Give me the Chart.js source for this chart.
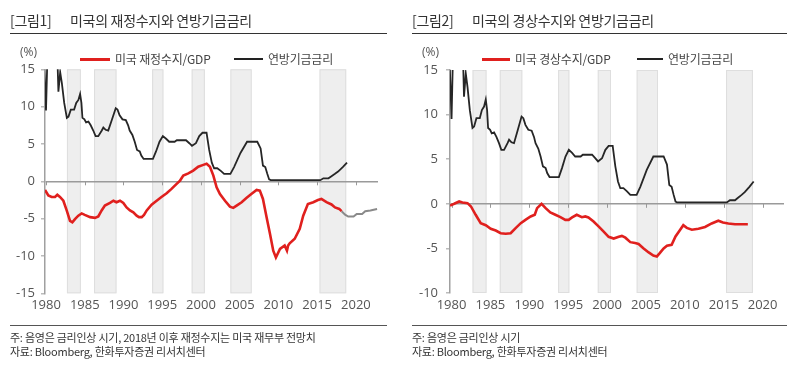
<!DOCTYPE html>
<html><head><meta charset="utf-8">
<script src="https://cdn.jsdelivr.net/npm/chart.js@4/dist/chart.umd.min.js"></script>
<style>
html,body{margin:0;padding:0;background:#fff;width:800px;height:378px;overflow:hidden;}
body{position:relative;font-family:"Noto Sans CJK KR","Noto Sans",sans-serif;color:#333;}
.abs{position:absolute;white-space:nowrap;}
.title{font-size:14px;line-height:18px;color:#333;letter-spacing:-0.3px;}
.rule{position:absolute;height:1.5px;background:#333;}
.note{font-size:11px;line-height:14px;color:#333;letter-spacing:-0.25px;}
.leg{font-size:12px;line-height:16px;color:#444;letter-spacing:-0.2px;}
.unit{font-size:12px;line-height:16px;color:#555;font-family:"Open Sans",sans-serif;}
.sw{position:absolute;}
canvas{position:absolute;top:0;}
</style></head>
<body>
<canvas id="c1" width="400" height="378" style="left:0"></canvas>
<canvas id="c2" width="400" height="378" style="left:400px"></canvas>

<div class="abs title" style="left:10px;top:11px">[그림1]</div>
<div class="abs title" style="left:70px;top:11px">미국의 재정수지와 연방기금금리</div>
<div class="rule" style="left:10px;top:32.5px;width:377px"></div>
<div class="abs title" style="left:412px;top:11px">[그림2]</div>
<div class="abs title" style="left:472px;top:11px">미국의 경상수지와 연방기금금리</div>
<div class="rule" style="left:412px;top:32.5px;width:375px"></div>

<div class="abs unit" style="left:20px;top:44px">(%)</div>
<div class="sw" style="left:80px;top:57.5px;width:30px;height:3px;background:#e0201e"></div>
<div class="abs leg" style="left:115px;top:51px">미국 재정수지/GDP</div>
<div class="sw" style="left:234px;top:58px;width:29px;height:2px;background:#222"></div>
<div class="abs leg" style="left:268px;top:51px">연방기금금리</div>

<div class="abs unit" style="left:422px;top:44px">(%)</div>
<div class="sw" style="left:482px;top:57.5px;width:28px;height:3px;background:#e0201e"></div>
<div class="abs leg" style="left:515px;top:51px">미국 경상수지/GDP</div>
<div class="sw" style="left:637px;top:58px;width:26px;height:2px;background:#222"></div>
<div class="abs leg" style="left:668px;top:51px">연방기금금리</div>

<div class="rule" style="left:10px;top:324.5px;width:377px;background:#555"></div>
<div class="abs note" style="left:10px;top:330px">주: 음영은 금리인상 시기, 2018년 이후 재정수지는 미국 재무부 전망치</div>
<div class="abs note" style="left:10px;top:344px">자료: Bloomberg, 한화투자증권 리서치센터</div>
<div class="rule" style="left:412px;top:324.5px;width:375px;background:#555"></div>
<div class="abs note" style="left:412px;top:330px">주: 음영은 금리인상 시기</div>
<div class="abs note" style="left:412px;top:344px">자료: Bloomberg, 한화투자증권 리서치센터</div>

<script>
// ---- Data ----
const xTickYears = [1980,1985,1990,1995,2000,2005,2010,2015,2020];

// Rate-hike periods (shaded)
const hikeStart = [1982.7,1986.2,1993.7,1998.8,2003.8,2015.3];
const hikeEnd   = [1984.5,1989.1,1995.15,2000.5,2006.55,2018.75];

// Federal funds rate (%)
const fedYears = [1979.75,1980.0,1980.2,1981.4,1981.6,1981.83,1982.05,1982.35,1982.69,1982.9,1983.2,1983.63,1983.9,1984.18,1984.4,1984.57,1984.7,1984.96,1985.17,1985.47,1985.77,1986.1,1986.4,1986.75,1987.2,1987.4,1987.7,1988.03,1988.46,1989.0,1989.23,1989.5,1989.87,1990.3,1990.6,1990.8,1991.15,1991.45,1991.75,1992.1,1992.3,1992.6,1993.8,1994.2,1994.65,1995.08,1995.5,1995.9,1996.6,1996.88,1998.07,1998.5,1998.84,1999.35,1999.78,2000.2,2000.72,2001.06,2001.4,2001.7,2002.1,2002.56,2002.99,2003.8,2004.27,2005.1,2005.95,2007.27,2007.7,2008.0,2008.3,2008.56,2008.8,2009.0,2015.4,2015.8,2016.45,2016.8,2017.3,2017.7,2018.3,2018.85];
const fedRates = [16,9.5,17.5,19,12.0,14.6,13.1,10.5,8.5,8.66,9.6,9.6,10.5,10.9,11.7,10.5,8.5,8.3,7.9,8.0,7.5,6.8,6.05,6.05,6.8,7.2,6.9,6.8,8.1,9.78,9.6,8.85,8.3,8.2,7.5,6.8,6.2,5.3,4.2,4.0,3.45,3.0,3.0,4.0,5.3,6.05,5.7,5.3,5.3,5.5,5.5,5.1,4.75,5.1,6.05,6.5,6.5,4.2,2.5,1.75,1.75,1.4,1.0,1.0,1.9,3.8,5.3,5.3,4.4,2.1,1.9,1.0,0.25,0.15,0.15,0.4,0.4,0.65,1.0,1.3,1.9,2.5];

// US fiscal balance / GDP (%)
const fiscalYears = [1979.87,1980.3,1980.73,1981.16,1981.46,1981.8,1982.24,1982.67,1983.1,1983.4,1983.74,1984.17,1984.6,1985.0,1985.7,1986.32,1986.75,1987.18,1987.6,1988.26,1988.7,1989.1,1989.55,1989.98,1990.4,1990.84,1991.27,1991.7,1992.0,1992.35,1992.65,1993.0,1993.63,1994.28,1994.9,1995.57,1996.2,1996.86,1997.3,1997.72,1998.37,1999.0,1999.65,2000.3,2000.73,2001.16,2001.6,2002.02,2002.45,2003.1,2003.74,2004.17,2004.6,2005.25,2005.9,2006.5,2007.18,2007.6,2008.0,2008.47,2008.9,2009.33,2009.67,2010.2,2010.8,2011.1,2011.25,2011.45,2012.1,2012.75,2013.2,2013.8,2014.5,2015.1,2015.55,2016.2,2016.85,2017.3,2017.85,2018.15];
const fiscalValues = [-1.15,-1.9,-2.1,-2.1,-1.8,-2.1,-2.6,-3.9,-5.3,-5.5,-5.06,-4.6,-4.3,-4.5,-4.8,-4.9,-4.7,-3.9,-3.25,-2.9,-2.6,-2.8,-2.6,-2.9,-3.5,-3.9,-4.16,-4.6,-4.8,-4.8,-4.5,-3.9,-3.12,-2.6,-2.1,-1.6,-1.02,-0.35,0.1,0.76,1.07,1.43,1.96,2.2,2.35,1.96,0.76,-0.8,-1.7,-2.6,-3.4,-3.56,-3.25,-2.8,-2.2,-1.7,-1.16,-1.25,-2.36,-4.8,-7.0,-9.3,-10.2,-9.05,-8.6,-9.3,-8.6,-8.3,-7.7,-6.37,-4.6,-3.04,-2.8,-2.5,-2.36,-2.8,-3.1,-3.5,-3.7,-4.0];

// Treasury projection of fiscal balance / GDP (%), after 2018
const projYears = [2018.15,2018.6,2019.0,2019.7,2020.1,2020.8,2021.2,2021.87,2022.73];
const projValues = [-4.0,-4.46,-4.72,-4.72,-4.37,-4.37,-4.0,-3.9,-3.7];

// US current account / GDP (%)
const caYears = [1979.8,1980.34,1980.98,1981.4,1982.05,1982.5,1983.1,1983.75,1984.4,1985.04,1985.68,1986.32,1986.96,1987.6,1988.24,1988.9,1989.5,1990.17,1990.7,1991.0,1991.57,1992.1,1992.7,1993.35,1994.0,1994.63,1995.06,1995.5,1996.1,1996.76,1997.2,1997.6,1998.26,1998.9,1999.53,2000.2,2000.85,2001.5,2001.9,2002.35,2002.99,2003.6,2004.05,2004.7,2005.35,2005.95,2006.4,2006.8,2007.27,2007.7,2008.3,2008.8,2009.4,2009.8,2010.25,2010.9,2011.75,2012.6,2013.45,2014.3,2014.9,2015.6,2016.45,2017.3,2018.1];
const caValues = [-0.2,0,0.26,0.15,0.07,-0.3,-1.23,-2.17,-2.4,-2.8,-3.0,-3.3,-3.36,-3.3,-2.72,-2.17,-1.8,-1.42,-1.23,-0.49,0,-0.49,-0.97,-1.23,-1.5,-1.8,-1.8,-1.53,-1.23,-1.5,-1.42,-1.53,-1.98,-2.54,-3.1,-3.7,-3.9,-3.7,-3.6,-3.8,-4.3,-4.4,-4.5,-5.0,-5.45,-5.8,-5.9,-5.5,-5.0,-4.7,-4.6,-3.66,-2.9,-2.4,-2.7,-2.9,-2.8,-2.6,-2.2,-1.9,-2.1,-2.2,-2.3,-2.3,-2.3];

const yTicks1 = [-15,-10,-5,0,5,10,15];
const yTicks2 = [-10,-5,0,5,10,15];

// ---- Helpers ----
const pts = (xs, ys) => xs.map((x, i) => ({x: x, y: ys[i]}));

const shadePlugin = {
  id: 'shade',
  beforeDraw(chart) {
    const {ctx, chartArea: a, scales: {x}} = chart;
    ctx.save();
    for (let i = 0; i < hikeStart.length; i++) {
      const x0 = x.getPixelForValue(hikeStart[i]);
      const x1 = x.getPixelForValue(hikeEnd[i]);
      ctx.fillStyle = '#eeeeee';
      ctx.fillRect(x0, a.top, x1 - x0, a.bottom - a.top);
      ctx.strokeStyle = '#dedede';
      ctx.lineWidth = 1;
      ctx.strokeRect(x0 + 0.5, a.top + 0.5, x1 - x0 - 1, a.bottom - a.top - 1);
    }
    ctx.restore();
  },
  beforeDatasetsDraw(chart) {
    const {ctx, scales: {x, y}} = chart;
    const y0 = y.getPixelForValue(0);
    ctx.save();
    ctx.strokeStyle = '#999';
    ctx.lineWidth = 1;
    for (const v of xTickYears) {
      const px = Math.round(x.getPixelForValue(v)) + 0.5;
      ctx.beginPath(); ctx.moveTo(px, y0); ctx.lineTo(px, y0 + 4); ctx.stroke();
    }
    ctx.restore();
  }
};

function makeChart(id, cfg) {
  const datasets = cfg.series.map(s => ({
    data: pts(s.xs, s.ys), borderColor: s.color, borderWidth: s.width,
    pointRadius: 0, tension: 0, fill: false, order: s.order
  }));
  return new Chart(document.getElementById(id), {
    type: 'line',
    data: {datasets},
    plugins: [shadePlugin],
    options: {
      responsive: false, animation: false, devicePixelRatio: 1,
      layout: {padding: cfg.padding},
      plugins: {legend: {display: false}, tooltip: {enabled: false}},
      scales: {
        x: {
          type: 'linear', min: cfg.xmin, max: cfg.xmax,
          afterBuildTicks: sc => { sc.ticks = xTickYears.map(v => ({value: v})); },
          afterFit: sc => { sc.height = 20; },
          grid: {display: false, drawTicks: false},
          border: {display: false},
          ticks: {padding: 4, maxRotation: 0, autoSkip: false, color: '#555',
                  font: {family: 'Open Sans', size: 13}, callback: v => String(v)}
        },
        y: {
          min: cfg.ymin, max: cfg.ymax,
          afterBuildTicks: sc => { sc.ticks = cfg.yTicks.map(v => ({value: v})); },
          afterFit: sc => { sc.width = cfg.yWidth; },
          grid: {
            color: c => (c.tick && c.tick.value === 0) ? '#9a9a9a' : 'rgba(0,0,0,0)',
            lineWidth: 1.5, drawTicks: true, tickLength: 4, tickColor: '#bbbbbb'
          },
          border: {display: true, color: '#a0a0a0', width: 1.5},
          ticks: {padding: cfg.yPad, color: '#555', font: {family: 'Open Sans', size: 13},
                  callback: v => String(v)}
        }
      }
    }
  });
}

makeChart('c1', {
  xmin: 1979.87, xmax: 2022.85, ymin: -15, ymax: 15, yTicks: yTicks1,
  yWidth: 45, yPad: 6,
  padding: {left: 0, top: 69.3, right: 22, bottom: 64.7},
  series: [
    {xs: fedYears, ys: fedRates, color: '#262626', width: 1.8, order: 2},
    {xs: projYears, ys: projValues, color: '#8a8a8a', width: 2, order: 3},
    {xs: fiscalYears, ys: fiscalValues, color: '#e0201e', width: 2.6, order: 1}
  ]
});

makeChart('c2', {
  xmin: 1979.8, xmax: 2022.75, ymin: -10, ymax: 15, yTicks: yTicks2,
  yWidth: 50, yPad: 8,
  padding: {left: 0, top: 70, right: 16, bottom: 65},
  series: [
    {xs: fedYears, ys: fedRates, color: '#262626', width: 1.8, order: 2},
    {xs: caYears, ys: caValues, color: '#e0201e', width: 2.6, order: 1}
  ]
});
</script>
</body></html>
